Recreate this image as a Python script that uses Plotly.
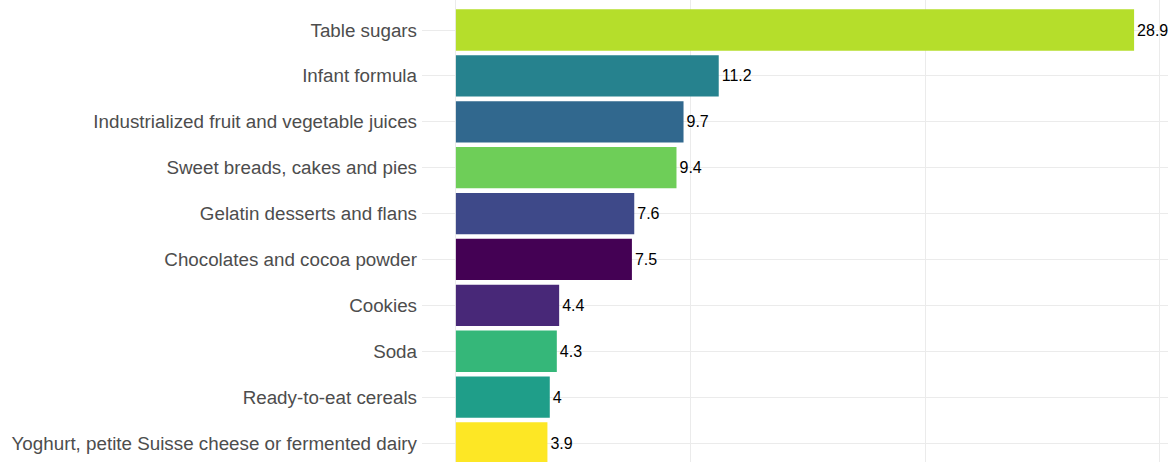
import plotly.graph_objects as go

categories = ["Table sugars", "Infant formula", "Industrialized fruit and vegetable juices",
              "Sweet breads, cakes and pies", "Gelatin desserts and flans",
              "Chocolates and cocoa powder", "Cookies", "Soda", "Ready-to-eat cereals",
              "Yoghurt, petite Suisse cheese or fermented dairy"]
values = [28.9, 11.2, 9.7, 9.4, 7.6, 7.5, 4.4, 4.3, 4, 3.9]
labels = ["28.9", "11.2", "9.7", "9.4", "7.6", "7.5", "4.4", "4.3", "4", "3.9"]
colors = ["#B5DE2B", "#26828E", "#31688E", "#6ECE58", "#3E4989",
          "#440154", "#482878", "#35B779", "#1F9E89", "#FDE725"]

fig = go.Figure(go.Bar(
    y=categories, x=values, orientation="h",
    marker=dict(color=colors, line=dict(width=0)),
    text=labels, textposition="outside",
    textfont=dict(family="Liberation Sans, Arial, sans-serif", size=16, color="black"),
    cliponaxis=False,
))

fig.update_layout(
    width=1173, height=462,
    margin=dict(l=422, r=5, t=0, b=0),
    plot_bgcolor="white", paper_bgcolor="white",
    bargap=0.1, showlegend=False,
    font=dict(family="Liberation Sans, Arial, sans-serif"),
)
fig.update_xaxes(range=[-1.445, 30.345], showticklabels=False, tickvals=[0, 10, 20, 30],
                 showgrid=True, gridcolor="#EBEBEB", gridwidth=1, zeroline=False,
                 showline=False, ticks="")
fig.update_yaxes(categoryorder="array", categoryarray=categories,
                 range=[9.414, -0.654], showgrid=True, gridcolor="#EBEBEB", gridwidth=1,
                 tickfont=dict(size=18.8, color="#4D4D4D"), ticks="", ticklabelstandoff=4,
                 showline=False, zeroline=False, automargin=False)

fig.write_html("out.html", config={"displayModeBar": False},
               post_script="document.body.style.margin='0';document.body.style.overflow='hidden';")
